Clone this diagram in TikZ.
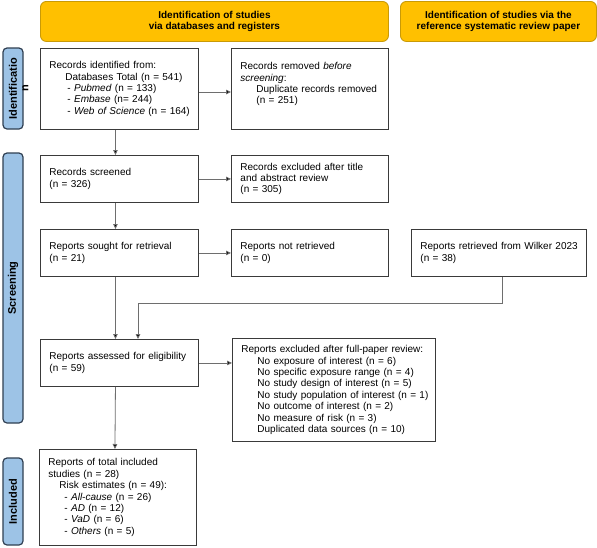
\documentclass[tikz,border=0pt]{standalone}
\usepackage{fontspec}
\setmainfont{Liberation Sans}
\usetikzlibrary{arrows.meta}
\definecolor{hdr}{HTML}{FFC000}
\definecolor{hdrb}{HTML}{C99A06}
\definecolor{side}{HTML}{9DC3E6}
\definecolor{sideb}{HTML}{2F3F52}
\definecolor{boxb}{HTML}{3A3A3A}
\definecolor{conn}{HTML}{6E6E6E}
\newcommand{\ind}{\hspace*{16pt}}
\begin{document}
\begin{tikzpicture}[x=1pt,y=-1pt,
  font=\fontsize{10}{11.4}\selectfont,
  box/.style={draw=boxb, line width=0.9pt, anchor=north west, align=left,
    inner xsep=0pt, inner ysep=2pt, execute at begin node={\leftskip=9pt\relax}},
  hdrbox/.style={draw=hdrb, fill=hdr, line width=0.9pt, rounded corners=6pt,
    align=center, font=\fontsize{10}{11.4}\selectfont\bfseries, anchor=north west,
    inner sep=0pt},
  sidebar/.style={draw=sideb, fill=side, line width=1.2pt, rounded corners=4pt,
    rotate=90, minimum height=20pt, inner sep=0pt},
  sidelab/.style={rotate=90, align=center, font=\fontsize{11}{11.4}\selectfont\bfseries, inner sep=0pt},
  arr/.style={draw=conn, line width=0.8pt, -{Triangle[length=5pt,width=4.5pt,fill=black]}},
  ln/.style={draw=conn, line width=0.8pt}
]
\useasboundingbox (0,0) rectangle (597,547);
\fill[white] (0,0) rectangle (597,547);

% headers
\node[hdrbox, minimum width=348pt, minimum height=40pt] (h1) at (40,1)
  {Identification of studies\\via databases and registers};
\node[hdrbox, minimum width=196pt, minimum height=40pt] (h2) at (400,1)
  {Identification of studies via the\\reference systematic review paper};

% side bars
\node[sidebar, minimum width=81pt] (s1) at (13,88.5) {};
\node[sidelab] (l1) at (18.7,88.5) {Identificatio\\n};
\node[sidebar, minimum width=270pt] (s2) at (13,288) {};
\node[sidelab] (l2) at (13,288) {Screening};
\node[sidebar, minimum width=87pt] (s3) at (13,501.5) {};
\node[sidelab] (l3) at (13,501.5) {Included};

% boxes
\node[box, text width=158pt, minimum height=81pt] (id) at (40,48)
  {Records identified from:\\
   \ind Databases Total (n = 541)\\
   \ind\hspace*{2pt}- \textit{Pubmed} (n = 133)\\
   \ind\hspace*{2pt}- \textit{Embase} (n= 244)\\
   \ind\hspace*{2pt}- \textit{Web of Science} (n = 164)};
\node[box, text width=157pt, minimum height=81pt] (rem) at (231,48)
  {Records removed \textit{before}\\
   \textit{screening}:\\
   \ind Duplicate records removed\\
   \ind (n = 251)\\
   \mbox{}};
\node[box, text width=158pt, minimum height=47pt] (scr) at (40,155)
  {Records screened\\(n = 326)};
\node[box, text width=157pt, minimum height=47pt] (exc) at (231,155)
  {Records excluded after title\\and abstract review\\(n = 305)};
\node[box, text width=158pt, minimum height=47pt] (sou) at (40,229)
  {Reports sought for retrieval\\(n = 21)};
\node[box, text width=157pt, minimum height=47pt] (nret) at (231,229)
  {Reports not retrieved\\(n = 0)};
\node[box, text width=175pt, minimum height=47pt] (wil) at (411,229)
  {Reports retrieved from Wilker 2023\\(n = 38)};
\node[box, text width=158pt, minimum height=47pt] (ass) at (40,339)
  {Reports assessed for eligibility\\(n = 59)};
\node[box, text width=203pt, minimum height=103pt] (exf) at (232,338)
  {Reports excluded after full-paper review:\\
   \ind No exposure of interest (n = 6)\\
   \ind No specific exposure range (n = 4)\\
   \ind No study design of interest (n = 5)\\
   \ind No study population of interest (n = 1)\\
   \ind No outcome of interest (n = 2)\\
   \ind No measure of risk (n = 3)\\
   \ind Duplicated data sources (n = 10)};
\node[box, text width=157pt, minimum height=96pt] (inc) at (39,449)
  {Reports of total included\\
   studies (n = 28)\\
   \hspace*{11pt}Risk estimates (n = 49):\\
   \ind- \textit{All-cause} (n = 26)\\
   \ind- \textit{AD} (n = 12)\\
   \ind- \textit{VaD} (n = 6)\\
   \ind- \textit{Others} (n = 5)};

% connectors
\draw[arr] ([xshift=-4pt]id.south) -- ([xshift=-4pt]scr.north);
\draw[arr] (id.east |- 0,92) -- (rem.west |- 0,92);
\draw[arr] (scr.east) -- (exc.west);
\draw[arr] ([xshift=-4pt]scr.south) -- ([xshift=-4pt]sou.north);
\draw[arr] (sou.east) -- (nret.west);
\draw[arr] ([xshift=-4pt]sou.south) -- ([xshift=-4pt]ass.north);
\coordinate (wj) at (138,303);
\draw[arr] ([xshift=3.5pt]wil.south) |- (wj) -- (wj |- ass.north);
\draw[arr] (ass.east) -- (exf.west |- ass.east);
\draw[arr] ([xshift=-4pt]ass.south) -- ([xshift=-3pt]inc.north);
\end{tikzpicture}
\end{document}
